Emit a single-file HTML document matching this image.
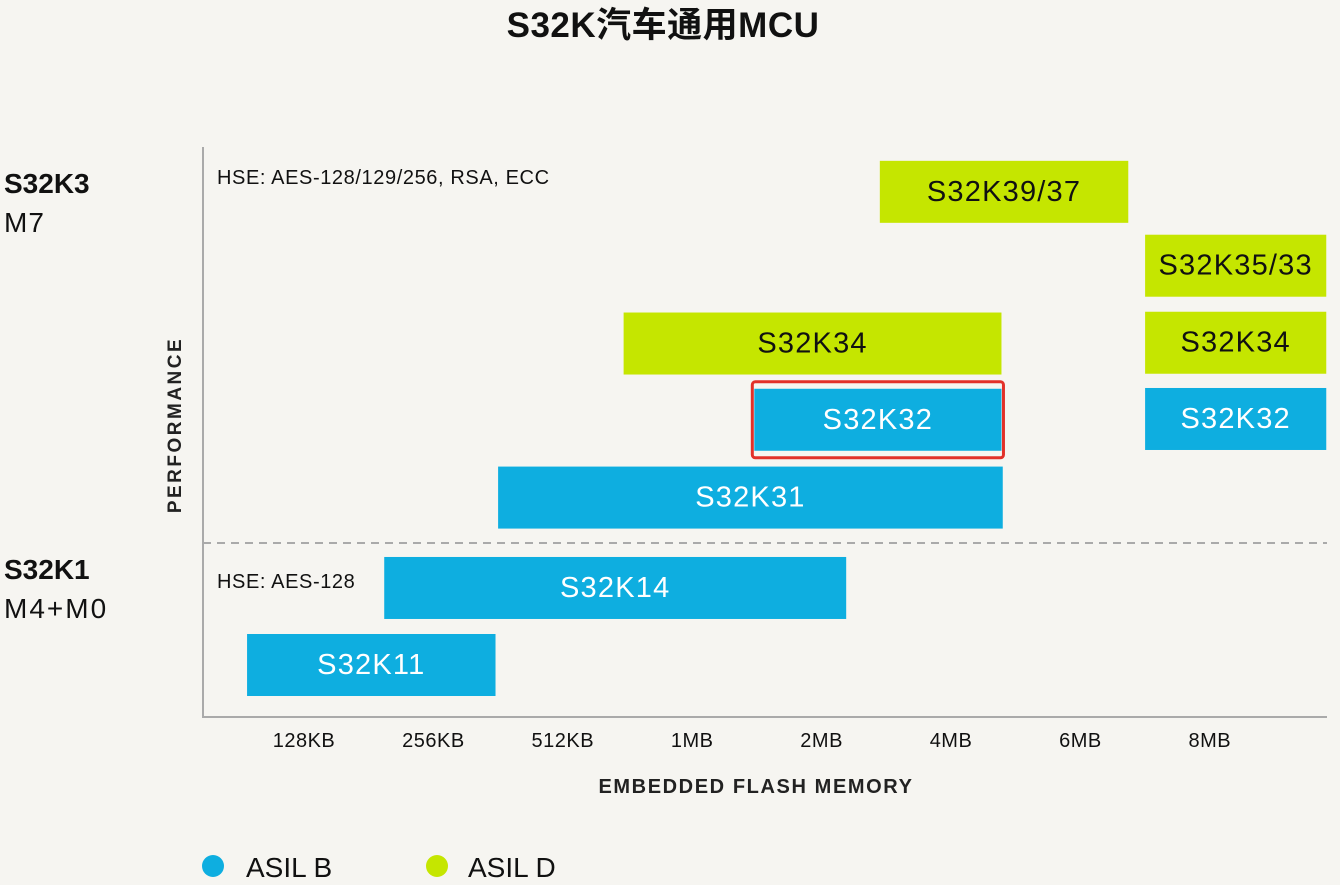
<!DOCTYPE html>
<html><head><meta charset="utf-8"><style>
body{margin:0;background:#f6f5f1;}
svg{display:block;font-family:"Liberation Sans","Noto Sans CJK SC",sans-serif;}
</style></head><body>
<svg id="chart" width="1340" height="885" viewBox="0 0 1340 885">
<rect width="1340" height="885" fill="#f6f5f1"/>
<text x="663" y="37" text-anchor="middle" font-size="35" font-weight="bold" letter-spacing="0.5" fill="#111">S32K汽车通用MCU</text>
<line x1="203" y1="147" x2="203" y2="718" stroke="#aaa" stroke-width="2"/>
<line x1="202" y1="717" x2="1327" y2="717" stroke="#aaa" stroke-width="2"/>
<line x1="203" y1="543" x2="1327" y2="543" stroke="#aaa" stroke-width="2" stroke-dasharray="8,6"/>
<text x="4" y="193" font-size="28" font-weight="bold" fill="#111">S32K3</text>
<text x="4" y="232" font-size="28" letter-spacing="1" fill="#111">M7</text>
<text x="4" y="579" font-size="28" font-weight="bold" fill="#111">S32K1</text>
<text x="4" y="618" font-size="28" letter-spacing="2" fill="#111">M4+M0</text>
<text x="217" y="184" font-size="20" letter-spacing="0.6" fill="#111">HSE: AES-128/129/256, RSA, ECC</text>
<text x="217" y="588" font-size="20" letter-spacing="0.6" fill="#111">HSE: AES-128</text>
<text transform="translate(181,425) rotate(-90)" text-anchor="middle" font-size="19" font-weight="bold" letter-spacing="2.5" fill="#222">PERFORMANCE</text>
<text x="756" y="793" text-anchor="middle" font-size="20" font-weight="bold" letter-spacing="1.6" fill="#222">EMBEDDED FLASH MEMORY</text>
<g id="ticks"></g>
<g id="bars"></g>
<circle cx="213" cy="866" r="11" fill="#0eaee0"/>
<text x="246" y="877" font-size="28" fill="#111">ASIL B</text>
<circle cx="437" cy="866" r="11" fill="#c5e600"/>
<text x="468" y="877" font-size="28" fill="#111">ASIL D</text>
</svg>
<script>
const tickLabels=["128KB","256KB","512KB","1MB","2MB","4MB","6MB","8MB"];
const barNames=["S32K39/37","S32K35/33","S32K34","S32K32","S32K34","S32K32","S32K31","S32K14","S32K11"];
const barStart=[4.45,6.5,6.5,6.5,2.47,3.48,1.5,0.62,-0.44];
const barEnd=[6.37,7.9,7.9,7.9,5.39,5.39,5.4,4.19,1.48];
const barLevel=[6.02,5.08,4.1,3.13,4.09,3.12,2.13,0.98,0];
const barAsil=["D","D","D","B","D","B","B","B","B"];
const highlighted=[false,false,false,false,false,true,false,false,false];
const NS="http://www.w3.org/2000/svg";
const xScale=v=>304+v*129.4;
const yScale=l=>665-l*78.6;
const H=62;
const tg=document.getElementById('ticks');
tickLabels.forEach((t,i)=>{
 const e=document.createElementNS(NS,'text');
 e.setAttribute('x',xScale(i));e.setAttribute('y',747);
 e.setAttribute('text-anchor','middle');e.setAttribute('font-size','20');e.setAttribute('letter-spacing','0.5');e.setAttribute('fill','#111');
 
 
 e.textContent=t;tg.appendChild(e);
});
const bg=document.getElementById('bars');
barNames.forEach((n,i)=>{
 const x0=xScale(barStart[i]),x1=xScale(barEnd[i]),cy=yScale(barLevel[i]);
 if(highlighted[i]){
  const o=document.createElementNS(NS,'rect');
  o.setAttribute('x',x0-2);o.setAttribute('y',cy-H/2-7);o.setAttribute('width',x1-x0+4);o.setAttribute('height',H+14);
  o.setAttribute('rx',3);o.setAttribute('fill','none');o.setAttribute('stroke','#e2312a');o.setAttribute('stroke-width',3);
  
  
  bg.appendChild(o);
 }
 const r=document.createElementNS(NS,'rect');
 r.setAttribute('x',x0);r.setAttribute('y',cy-H/2);r.setAttribute('width',x1-x0);r.setAttribute('height',H);
 r.setAttribute('fill',barAsil[i]==='D'?'#c5e600':'#0eaee0');
 
 
 bg.appendChild(r);
 const t=document.createElementNS(NS,'text');
 t.setAttribute('x',(x0+x1)/2);t.setAttribute('y',cy+9);t.setAttribute('text-anchor','middle');
 t.setAttribute('font-size','29');t.setAttribute('letter-spacing','1.2');t.setAttribute('fill',barAsil[i]==='D'?'#111':'#fff');
 
 
 t.textContent=n;bg.appendChild(t);
});
</script>
</body></html>
